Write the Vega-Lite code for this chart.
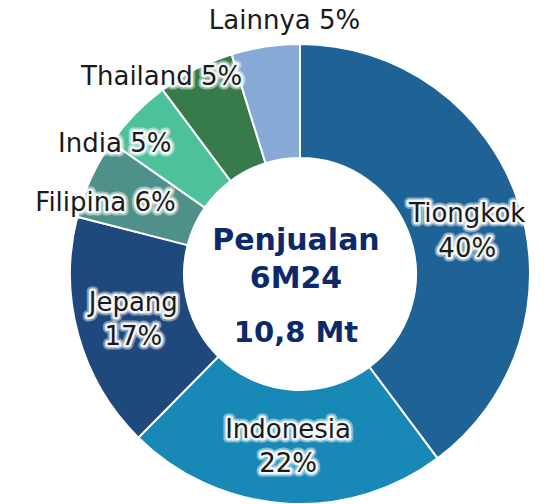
{
  "$schema": "https://vega.github.io/schema/vega-lite/v6.json",
  "width": 600,
  "height": 548,
  "autosize": "none",
  "padding": 0,
  "background": "white",
  "config": {"view": {"stroke": null}, "text": {"font": "DejaVu Sans"}},
  "datasets": {
    "share": [
      {"country": "Tiongkok", "label": "Tiongkok\n40%", "pct": 39.8, "rank": 1},
      {"country": "Indonesia", "label": "Indonesia\n22%", "pct": 22.6, "rank": 2},
      {"country": "Jepang", "label": "Jepang\n17%", "pct": 16.6, "rank": 3},
      {"country": "Filipina", "label": "Filipina 6%", "pct": 5.7, "rank": 4},
      {"country": "India", "label": "India 5%", "pct": 5.1, "rank": 5},
      {"country": "Thailand", "label": "Thailand 5%", "pct": 5.4, "rank": 6},
      {"country": "Lainnya", "label": "Lainnya 5%", "pct": 4.8, "rank": 7}
    ],
    "center": [
      {"line": "Penjualan", "k": 1},
      {"line": "6M24", "k": 2},
      {"line": "10,8 Mt", "k": 3}
    ]
  },
  "layer": [
    {
      "data": {"name": "share"},
      "encoding": {
        "theta": {"field": "pct", "type": "quantitative", "stack": true},
        "order": {"field": "rank", "type": "quantitative"}
      },
      "layer": [
        {
          "mark": {"type": "arc", "outerRadius": 230, "innerRadius": 116, "stroke": "white", "strokeWidth": 2},
          "encoding": {
            "color": {
              "field": "country", "type": "nominal", "legend": null,
              "scale": {
                "domain": ["Tiongkok", "Indonesia", "Jepang", "Filipina", "India", "Thailand", "Lainnya"],
                "range": ["#1f6296", "#1889b6", "#1f497c", "#4f908a", "#4cc19c", "#377b4b", "#87a9d5"]
              }
            }
          }
        },
        {
          "encoding": {
            "detail": {"field": "country", "type": "nominal"},
            "text": {"condition": {"test": "datum.country === 'Indonesia' || datum.country === 'Jepang'", "field": "label"}, "value": ""}
          },
          "layer": [
            {"mark": {"type": "text", "radius": 173, "dy": -17, "fontSize": 26, "lineBreak": "\n", "lineHeight": 34, "align": "center", "baseline": "middle", "stroke": "white", "strokeWidth": 9, "strokeOpacity": 0.45, "strokeJoin": "round", "fill": "white"}},
            {"mark": {"type": "text", "radius": 173, "dy": -17, "fontSize": 26, "lineBreak": "\n", "lineHeight": 34, "align": "center", "baseline": "middle", "stroke": "white", "strokeWidth": 5, "strokeOpacity": 0.9, "strokeJoin": "round", "fill": "white"}},
            {"mark": {"type": "text", "radius": 173, "dy": -17, "fontSize": 26, "lineBreak": "\n", "lineHeight": 34, "align": "center", "baseline": "middle", "fill": "#1a1a1a"}}
          ]
        },
        {
          "encoding": {
            "detail": {"field": "country", "type": "nominal"},
            "text": {"condition": {"test": "datum.country === 'Tiongkok'", "field": "label"}, "value": ""}
          },
          "layer": [
            {"mark": {"type": "text", "radius": 172, "dx": 4, "dy": -6, "fontSize": 26, "lineBreak": "\n", "lineHeight": 35, "align": "center", "baseline": "middle", "stroke": "white", "strokeWidth": 9, "strokeOpacity": 0.45, "strokeJoin": "round", "fill": "white"}},
            {"mark": {"type": "text", "radius": 172, "dx": 4, "dy": -6, "fontSize": 26, "lineBreak": "\n", "lineHeight": 35, "align": "center", "baseline": "middle", "stroke": "white", "strokeWidth": 5, "strokeOpacity": 0.9, "strokeJoin": "round", "fill": "white"}},
            {"mark": {"type": "text", "radius": 172, "dx": 4, "dy": -6, "fontSize": 26, "lineBreak": "\n", "lineHeight": 35, "align": "center", "baseline": "middle", "fill": "#1a1a1a"}}
          ]
        },
        {
          "encoding": {
            "detail": {"field": "country", "type": "nominal"},
            "text": {"condition": {"test": "datum.country === 'Filipina'", "field": "label"}, "value": ""}
          },
          "layer": [
            {"mark": {"type": "text", "radius": 170, "dx": -40, "fontSize": 26, "align": "center", "baseline": "middle", "stroke": "white", "strokeWidth": 9, "strokeOpacity": 0.45, "strokeJoin": "round", "fill": "white"}},
            {"mark": {"type": "text", "radius": 170, "dx": -40, "fontSize": 26, "align": "center", "baseline": "middle", "stroke": "white", "strokeWidth": 5, "strokeOpacity": 0.9, "strokeJoin": "round", "fill": "white"}},
            {"mark": {"type": "text", "radius": 170, "dx": -40, "fontSize": 26, "align": "center", "baseline": "middle", "fill": "#1a1a1a"}}
          ]
        },
        {
          "encoding": {
            "detail": {"field": "country", "type": "nominal"},
            "text": {"condition": {"test": "datum.country === 'India'", "field": "label"}, "value": ""}
          },
          "layer": [
            {"mark": {"type": "text", "radius": 187, "dx": -51, "fontSize": 26, "align": "center", "baseline": "middle", "stroke": "white", "strokeWidth": 9, "strokeOpacity": 0.45, "strokeJoin": "round", "fill": "white"}},
            {"mark": {"type": "text", "radius": 187, "dx": -51, "fontSize": 26, "align": "center", "baseline": "middle", "stroke": "white", "strokeWidth": 5, "strokeOpacity": 0.9, "strokeJoin": "round", "fill": "white"}},
            {"mark": {"type": "text", "radius": 187, "dx": -51, "fontSize": 26, "align": "center", "baseline": "middle", "fill": "#1a1a1a"}}
          ]
        },
        {
          "encoding": {
            "detail": {"field": "country", "type": "nominal"},
            "text": {"condition": {"test": "datum.country === 'Thailand'", "field": "label"}, "value": ""}
          },
          "layer": [
            {"mark": {"type": "text", "radius": 221, "dx": -38, "fontSize": 26, "align": "center", "baseline": "middle", "stroke": "white", "strokeWidth": 9, "strokeOpacity": 0.45, "strokeJoin": "round", "fill": "white"}},
            {"mark": {"type": "text", "radius": 221, "dx": -38, "fontSize": 26, "align": "center", "baseline": "middle", "stroke": "white", "strokeWidth": 5, "strokeOpacity": 0.9, "strokeJoin": "round", "fill": "white"}},
            {"mark": {"type": "text", "radius": 221, "dx": -38, "fontSize": 26, "align": "center", "baseline": "middle", "fill": "#1a1a1a"}}
          ]
        },
        {
          "encoding": {
            "detail": {"field": "country", "type": "nominal"},
            "text": {"condition": {"test": "datum.country === 'Lainnya'", "field": "label"}, "value": ""}
          },
          "layer": [
            {"mark": {"type": "text", "radius": 256, "dx": 23, "fontSize": 26, "align": "center", "baseline": "middle", "stroke": "white", "strokeWidth": 9, "strokeOpacity": 0.45, "strokeJoin": "round", "fill": "white"}},
            {"mark": {"type": "text", "radius": 256, "dx": 23, "fontSize": 26, "align": "center", "baseline": "middle", "stroke": "white", "strokeWidth": 5, "strokeOpacity": 0.9, "strokeJoin": "round", "fill": "white"}},
            {"mark": {"type": "text", "radius": 256, "dx": 23, "fontSize": 26, "align": "center", "baseline": "middle", "fill": "#1a1a1a"}}
          ]
        }
      ]
    },
    {
      "data": {"name": "center"},
      "layer": [
        {
          "transform": [{"filter": "datum.k === 1"}],
          "mark": {"type": "text", "fontSize": 30, "fontWeight": "bold", "fill": "#0b2a6b", "align": "center", "baseline": "alphabetic", "dx": -4, "dy": -24},
          "encoding": {"text": {"field": "line", "type": "nominal"}}
        },
        {
          "transform": [{"filter": "datum.k === 2"}],
          "mark": {"type": "text", "fontSize": 30, "fontWeight": "bold", "fill": "#0b2a6b", "align": "center", "baseline": "alphabetic", "dx": -4, "dy": 14},
          "encoding": {"text": {"field": "line", "type": "nominal"}}
        },
        {
          "transform": [{"filter": "datum.k === 3"}],
          "mark": {"type": "text", "fontSize": 29, "fontWeight": "bold", "fill": "#0b2a6b", "align": "center", "baseline": "alphabetic", "dx": -4, "dy": 68},
          "encoding": {"text": {"field": "line", "type": "nominal"}}
        }
      ]
    }
  ]
}
